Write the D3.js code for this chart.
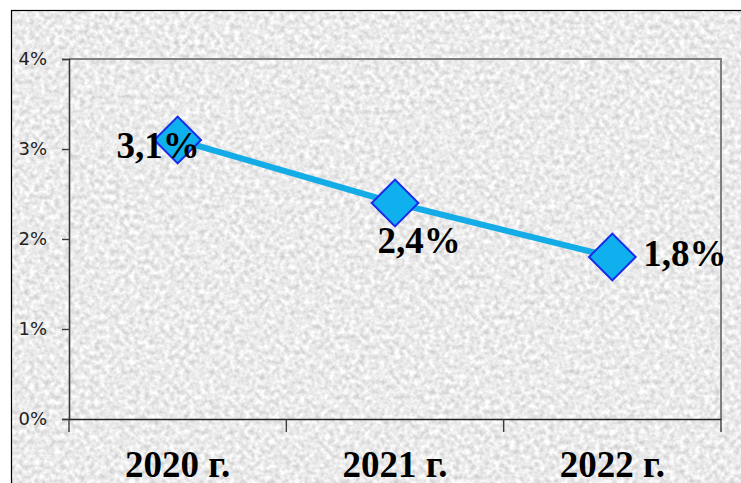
<!DOCTYPE html>
<html>
<head>
<meta charset="utf-8">
<script src="https://cdn.jsdelivr.net/npm/d3@7"></script>
<style>
  body { margin: 0; background: #fff; }
  svg { display: block; }
</style>
</head>
<body>
<div id="chart"></div>
<script>
var years = ["2020 г.", "2021 г.", "2022 г."];
var rates = [3.1, 2.4, 1.8];
var labels = ["3,1%", "2,4%", "1,8%"];
var yTicks = [0, 1, 2, 3, 4];

var W = 741, H = 483;
var plot = {left: 69, top: 59, right: 721, bottom: 419};

var svg = d3.select("#chart").append("svg")
    .attr("width", W)
    .attr("height", H);

// granite-like texture for the chart background
var defs = svg.append("defs");
var filt = defs.append("filter")
    .attr("id", "granite")
    .attr("x", 0).attr("y", 0).attr("width", 1).attr("height", 1)
    .attr("color-interpolation-filters", "sRGB");
filt.append("feTurbulence")
    .attr("type", "fractalNoise")
    .attr("baseFrequency", 0.2)
    .attr("numOctaves", 2)
    .attr("seed", 7);
filt.append("feColorMatrix")
    .attr("type", "matrix")
    .attr("values", "0.32 0 0 0 0.76  0.32 0 0 0 0.76  0.32 0 0 0 0.76  0 0 0 0 1");

svg.append("rect")
    .attr("x", 11).attr("y", 10)
    .attr("width", W + 20).attr("height", H + 20)
    .attr("filter", "url(#granite)");
svg.append("rect")
    .attr("x", 11.5).attr("y", 10.5)
    .attr("width", W + 20).attr("height", H + 20)
    .attr("fill", "none")
    .attr("stroke", "#000")
    .attr("stroke-width", 1.2);

var x = d3.scaleBand()
    .domain(years)
    .range([plot.left, plot.right]);

var y = d3.scaleLinear()
    .domain([0, 4])
    .range([plot.bottom, plot.top]);

// plot area frame (top and right in grey)
svg.append("path")
    .attr("d", "M" + plot.left + "," + plot.top + "H" + plot.right + "V" + plot.bottom)
    .attr("fill", "none")
    .attr("stroke", "#7f7f7f")
    .attr("stroke-width", 2);

// y axis
var yAxis = svg.append("g")
    .attr("transform", "translate(" + plot.left + ",0)")
    .call(d3.axisLeft(y)
        .tickValues(yTicks)
        .tickSize(7)
        .tickPadding(15)
        .tickFormat(function (d) { return d + "%"; }));
yAxis.attr("font-size", null).attr("font-family", null);
yAxis.select(".domain").attr("stroke", "#3a3a3a").attr("stroke-width", 1.6);
yAxis.selectAll(".tick line").attr("stroke", "#3a3a3a").attr("stroke-width", 1.4);
yAxis.selectAll(".tick text")
    .attr("fill", "#222")
    .attr("font-family", "'DejaVu Sans', Verdana, sans-serif")
    .attr("font-size", 18);

// x axis, ticks between categories
var xAxis = svg.append("g")
    .attr("transform", "translate(0," + plot.bottom + ")")
    .call(d3.axisBottom(x).tickSize(0).tickPadding(32));
xAxis.attr("font-size", null).attr("font-family", null);
xAxis.select(".domain").attr("stroke", "#222").attr("stroke-width", 1.6);
xAxis.selectAll(".tick text")
    .attr("fill", "#000")
    .attr("font-family", "'Liberation Serif', 'Times New Roman', serif")
    .attr("font-weight", "bold")
    .attr("font-size", 37)
    .attr("dy", "0.71em");

var edges = years.map(function (d) { return x(d); }).concat([x(years[2]) + x.bandwidth()]);
xAxis.selectAll(".sep")
    .data(edges)
    .enter().append("line")
    .attr("class", "sep")
    .attr("x1", function (d) { return d; })
    .attr("x2", function (d) { return d; })
    .attr("y1", 0)
    .attr("y2", 13)
    .attr("stroke", "#3a3a3a")
    .attr("stroke-width", 1.4);

var pts = years.map(function (d, i) {
    return {year: d, value: rates[i], label: labels[i]};
});

var line = d3.line()
    .x(function (d) { return x(d.year) + x.bandwidth() / 2; })
    .y(function (d) { return y(d.value); });

svg.append("path")
    .datum(pts)
    .attr("d", line)
    .attr("fill", "none")
    .attr("stroke", "#13ace6")
    .attr("stroke-width", 6);

svg.selectAll(".marker")
    .data(pts)
    .enter().append("path")
    .attr("class", "marker")
    .attr("d", d3.symbol().type(d3.symbolSquare).size(2 * 16.5 * 16.5 * 2))
    .attr("transform", function (d) {
        return "translate(" + (x(d.year) + x.bandwidth() / 2) + "," + y(d.value) + ") rotate(45)";
    })
    .attr("fill", "#0fb0ee")
    .attr("stroke", "#1a2bea")
    .attr("stroke-width", 2);

// data labels: left, below, right
var lblPos = [
    {dx: 22, dy: 18, anchor: "end"},
    {dx: 24, dy: 50, anchor: "middle"},
    {dx: 31, dy: 9, anchor: "start"}
];

svg.selectAll(".lbl")
    .data(pts)
    .enter().append("text")
    .attr("class", "lbl")
    .attr("x", function (d, i) { return x(d.year) + x.bandwidth() / 2 + lblPos[i].dx; })
    .attr("y", function (d, i) { return y(d.value) + lblPos[i].dy; })
    .attr("text-anchor", function (d, i) { return lblPos[i].anchor; })
    .attr("font-family", "'Liberation Serif', 'Times New Roman', serif")
    .attr("font-weight", "bold")
    .attr("font-size", 37)
    .attr("fill", "#000")
    .text(function (d) { return d.label; });
</script>
</body>
</html>
